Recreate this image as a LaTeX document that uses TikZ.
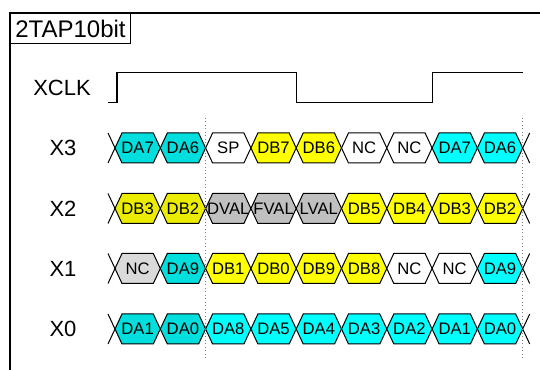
\documentclass[tikz,border=0pt]{standalone}
\usepackage{fontspec}
\setmainfont{Liberation Sans}
\definecolor{cyanc}{RGB}{0,255,255}
\definecolor{hcyanc}{RGB}{0,222,222}
\definecolor{yelc}{RGB}{255,255,0}
\definecolor{hyelc}{RGB}{236,236,0}
\definecolor{grayc}{RGB}{192,192,192}
\definecolor{hgrayc}{RGB}{218,218,218}
\tikzset{
  hexline/.style={draw=black, line width=0.75pt, line join=miter},
  cy/.style={hexline, fill=cyanc},
  hcy/.style={hexline, fill=hcyanc},
  ye/.style={hexline, fill=yelc},
  hye/.style={hexline, fill=hyelc},
  gr/.style={hexline, fill=grayc},
  hgr/.style={hexline, fill=hgrayc},
  wh/.style={hexline, fill=white},
  celltext/.style={inner sep=0pt, font=\fontsize{12.5pt}{15pt}\selectfont},
  siglabel/.style={inner sep=0pt, font=\fontsize{16.5pt}{19pt}\selectfont},
  clockline/.style={line width=1pt, line join=miter},
  guide/.style={gray, dotted, line width=0.6pt},
  frameline/.style={line width=1pt}
}
\newcommand{\hexcell}[5]{%
  \pgfmathsetmacro\xa{115+#1*45.3}%
  \pgfmathsetmacro\xb{\xa+45.3}%
  \pgfmathsetmacro\xm{(\xa+\xb)/2}%
  \draw[#3] (\xa,#2) -- (\xa+7,#2-15) -- (\xb-7,#2-15) -- (\xb,#2) -- (\xb-7,#2+15) -- (\xa+7,#2+15) -- cycle;
  \node[celltext] (#5) at (\xm,#2) {#4};
}
\newcommand{\rowends}[1]{%
  \draw[hexline] (108,#1-15) -- (115,#1) -- (108,#1+15);
  \draw[hexline] (529.7,#1-15) -- (522.7,#1) -- (529.7,#1+15);
}
\begin{document}
\begin{tikzpicture}[x=0.75pt,y=-0.75pt]
\useasboundingbox (0,0) rectangle (540,370);
\fill[white] (0,0) rectangle (540,370);
% frame
\draw[frameline] (542,13) -- (10,13) -- (10,372);
\node[draw, line width=0.75pt, minimum width=90pt, minimum height=22.5pt, anchor=north west, inner sep=0pt,
  font=\fontsize{18pt}{20pt}\selectfont] (title) at (10,13) {2TAP10bit};
% labels
\node[siglabel] (lclk) at (62,88) {XCLK};
\node[siglabel] (lx3) at (63,148) {X3};
\node[siglabel] (lx2) at (63,208.5) {X2};
\node[siglabel] (lx1) at (63,268.5) {X1};
\node[siglabel] (lx0) at (63,329) {X0};
% clock
\coordinate (c0) at (108,102.5);
\coordinate (c1) at (117,102.5);
\coordinate (c2) at (117,72.3);
\coordinate (c3) at (296.7,72.3);
\coordinate (c4) at (296.7,102.5);
\coordinate (c5) at (432.7,102.5);
\coordinate (c6) at (432.7,72.3);
\coordinate (c7) at (522.7,72.3);
\draw[clockline] (c0) -- (c1) -- (c2) -- (c3) -- (c4) -- (c5) -- (c6) -- (c7);
% rows
\foreach \t/\s [count=\i from 0] in {DA7/hcy,DA6/hcy,SP/wh,DB7/ye,DB6/ye,NC/wh,NC/wh,DA7/cy,DA6/cy}
  {\hexcell{\i}{148}{\s}{\t}{xthree\i}}
\foreach \t/\s [count=\i from 0] in {DB3/hye,DB2/hye,DVAL/gr,FVAL/gr,LVAL/gr,DB5/ye,DB4/ye,DB3/ye,DB2/ye}
  {\hexcell{\i}{208.5}{\s}{\t}{xtwo\i}}
\foreach \t/\s [count=\i from 0] in {NC/hgr,DA9/hcy,DB1/ye,DB0/ye,DB9/ye,DB8/ye,NC/wh,NC/wh,DA9/cy}
  {\hexcell{\i}{268.5}{\s}{\t}{xone\i}}
\foreach \t/\s [count=\i from 0] in {DA1/hcy,DA0/hcy,DA8/cy,DA5/cy,DA4/cy,DA3/cy,DA2/cy,DA1/cy,DA0/cy}
  {\hexcell{\i}{329}{\s}{\t}{xzero\i}}
\rowends{148}
\rowends{208.5}
\rowends{268.5}
\rowends{329}
% guides
\coordinate (g1t) at (205.6,118);
\coordinate (g1b) at (205.6,359);
\coordinate (g2t) at (522.7,118);
\coordinate (g2b) at (522.7,359);
\draw[guide] (g1t) -- (g1b);
\draw[guide] (g2t) -- (g2b);
\end{tikzpicture}
\end{document}
